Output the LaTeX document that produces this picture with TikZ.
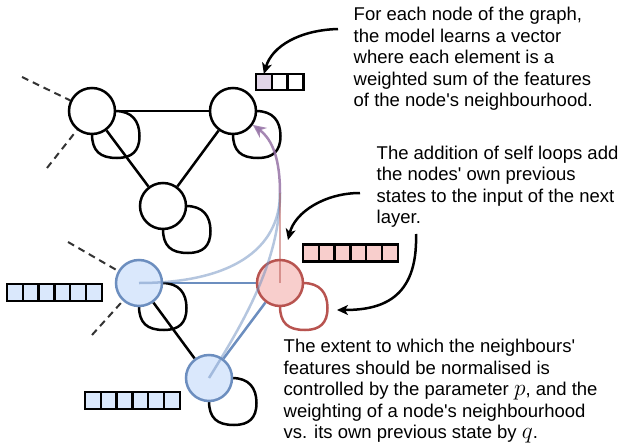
\documentclass[tikz,border=0pt]{standalone}
\usepackage{graphicx}
\usepackage{fontspec}
\setmainfont{Liberation Sans}[Ligatures=TeXOff]
\usetikzlibrary{arrows.meta}
\definecolor{bstroke}{HTML}{6C8EBF}
\definecolor{bfill}{HTML}{DAE8FC}
\definecolor{rstroke}{HTML}{B85450}
\definecolor{rfill}{HTML}{F8CECC}
\definecolor{pstroke}{HTML}{9673A6}
\definecolor{pfill}{HTML}{E1D5E7}
\definecolor{dashc}{HTML}{333333}
\pgfdeclarelayer{bg}
\pgfdeclarelayer{fg}
\pgfsetlayers{bg,main,fg}
\newcommand\drawselfloop[2]{%
  \draw[selfloop,draw=#2,shift={(#1.center)}] (23,0) .. controls (40,0) and (47.5,10) .. (47.5,25)
    .. controls (47.5,40) and (40,47) .. (25,47) .. controls (8,47) and (0,40) .. (0,23);}
\newcommand\mathbig[1]{\smash{\scalebox{1.35}{$#1$}}}
\begin{document}
\begin{tikzpicture}[x=1pt,y=-1pt,
  gnode/.style={circle,draw,line width=2.5pt,minimum size=46pt,inner sep=0pt,fill=white},
  bnode/.style={gnode,draw=bstroke,fill=bfill},
  rnode/.style={gnode,draw=rstroke,fill=rfill},
  link/.style={line width=2.5pt},
  selfloop/.style={line width=2.5pt},
  dashline/.style={line width=2pt,draw=dashc,dash pattern=on 7pt off 5pt},
  cell/.style={draw,line width=2.5pt,minimum width=15.8pt,minimum height=17pt,inner sep=0pt,outer sep=0pt},
  note/.style={anchor=north west,align=left,inner sep=0pt,font=\fontsize{18.5}{21.4}\selectfont},
  pointer/.style={line width=2.5pt,-{Stealth[length=11pt,width=10pt,inset=3pt]}},
  faint/.style={line width=2.5pt,draw opacity=0.5},
]
\useasboundingbox (0,0) rectangle (624,447);

\node[gnode] (A) at (92,111) {};
\node[gnode] (B) at (233,111) {};
\node[gnode] (C) at (163,206) {};
\node[bnode] (D) at (139,283) {};
\node[rnode] (E) at (280,283) {};
\node[bnode] (F) at (209,378) {};

\coordinate (da1) at (22,77);
\coordinate (da2) at (47,168);
\coordinate (dd1) at (68,242);
\coordinate (dd2) at (92,335);
\coordinate (M) at (280,193);

\begin{pgfonlayer}{bg}
\draw[dashline] (da1) -- (A);
\draw[dashline] (da2) -- (A);
\draw[dashline] (dd1) -- (D);
\draw[dashline] (dd2) -- (D);

\draw[link] (A) -- (B);
\draw[link] (A) -- (C);
\draw[link] (B) -- (C);
\draw[link,draw=bstroke] (D) -- (E);
\draw[link] (D) -- (F);
\draw[link,draw=bstroke] (E) -- (F);

\drawselfloop{A}{black}
\drawselfloop{B}{black}
\drawselfloop{C}{black}
\drawselfloop{D}{black}
\drawselfloop{E}{rstroke}
\drawselfloop{F}{black}
\end{pgfonlayer}

\begin{pgfonlayer}{fg}
\draw[faint,draw=bstroke] (D.center) .. controls (230,283) and (280,250) .. (M);
\draw[faint,draw=bstroke] (F.center) .. controls (245,320) and (280,260) .. (M);
\draw[faint,draw=rstroke] (E.center) -- (M);
\draw[line width=2.5pt,draw=pstroke,draw opacity=0.85,
  -{Stealth[length=13pt,width=12pt,inset=4pt,fill=pstroke!70!white]}]
  (M) .. controls (280,160) and (273,140) .. (B.-35);
\end{pgfonlayer}

\foreach \i/\c in {1/pfill,2/white,3/white} {
  \node[cell,minimum height=16pt,fill=\c] (pv\i) at ({256+7.9+(\i-1)*15.8},82) {};
}
\foreach \i in {1,...,6} {
  \node[cell,fill=rfill] (rv\i) at ({303+7.9+(\i-1)*15.8},253) {};
  \node[cell,fill=bfill] (dv\i) at ({7+7.9+(\i-1)*15.8},292.5) {};
  \node[cell,fill=bfill] (fv\i) at ({85+7.9+(\i-1)*15.8},400.5) {};
}

\node[note] (t1) at (353.5,6.7) {\rule{0pt}{14pt}For each node of the graph,\\the model learns a vector\\where each element is a\\weighted sum of the features\\of the node's neighbourhood.};
\node[note] (t2) at (376.5,145) {\rule{0pt}{14pt}The addition of self loops add\\the nodes' own previous\\states to the input of the next\\layer.};
\node[note] (t3) at (283.5,338.7) {\rule{0pt}{14pt}The extent to which the neighbours'\\features should be normalised is\\controlled by the parameter \mathbig{p}, and the\\weighting of a node's neighbourhood\\vs. its own previous state by \mathbig{q}.};

\coordinate (s1) at (338,29);
\coordinate (s2) at (360,193);
\coordinate (e2) at (288,240);
\coordinate (s3) at (416,234);
\coordinate (e3) at (337,310);
\draw[pointer] (s1) .. controls (300,30) and (272,46) .. (pv1.north);
\draw[pointer] (s2) .. controls (325,193) and (295,212) .. (e2);
\draw[pointer] (s3) .. controls (418,300) and (380,310) .. (e3);
\end{tikzpicture}
\end{document}
